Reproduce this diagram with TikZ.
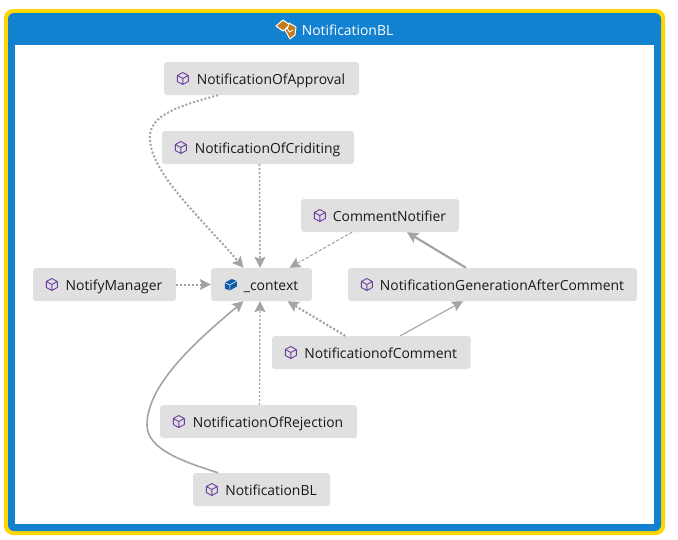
\documentclass[tikz,border=0pt]{standalone}
\usepackage{fontspec}
\setmainfont{Open Sans}
\usetikzlibrary{arrows.meta}
\definecolor{framegold}{RGB}{255,214,0}
\definecolor{frameblue}{RGB}{18,130,208}
\definecolor{boxgray}{RGB}{224,224,224}
\definecolor{linkgray}{RGB}{164,164,164}
\definecolor{cubepurple}{RGB}{107,63,160}
\definecolor{fieldblue}{RGB}{14,92,168}
\definecolor{bundleorange}{RGB}{196,122,28}
\tikzset{
    % Type box with room for the cube icon
    typebox/.style={
        rectangle, fill=boxgray, text=black!90,
        minimum height=33pt, inner xsep=0pt, inner ysep=0pt,
        text height=14pt, text depth=3pt,
        rounded corners=3pt, font=\fontsize{13.9pt}{16pt}\selectfont
    },
    % Link styles
    link/.style={draw=linkgray, -{Stealth[length=11pt,width=11pt,inset=2pt]}},
    dotlink/.style={link, dash pattern=on 2pt off 2pt},
    % Purple cube icon
    typecube/.pic={
        \draw[cubepurple, line width=0.9pt, line join=round]
            (0,-6) -- (5.5,-3) -- (5.5,3) -- (0,6) -- (-5.5,3) -- (-5.5,-3) -- cycle
            (-5.5,-3) -- (0,0) -- (5.5,-3) (0,0) -- (0,6);
    }
}
\newcommand{\boxtext}[1]{\hspace*{19pt}#1}
\begin{document}
\begin{tikzpicture}[x=1pt,y=-1pt]
\useasboundingbox (0,0) rectangle (678,539);

% Frame
\fill[framegold, rounded corners=9pt] (4,9) rectangle (665,535);
\fill[frameblue, rounded corners=6pt] (8,13) rectangle (661,531);
\fill[white] (15,45) rectangle (654,523.5);
\node[text=white, text height=14pt, text depth=3pt, inner sep=0pt, font=\fontsize{13.9pt}{16pt}\selectfont] (title) at (347.5,29.5) {NotificationBL};

% Bundle icon in the header
\begin{scope}[shift={(286,29)}]
\draw[white, line width=1pt, fill=bundleorange, line join=round]
    (-10,-3) -- (-3,-9) -- (4,-4) -- (-3,2) -- cycle;
\draw[white, line width=1pt, fill=bundleorange, line join=round]
    (-1,1) -- (2,-2) -- (3,-6) -- (10,-2) -- (9,6) -- (4,10) -- cycle;
\draw[white, line width=0.8pt] (1,-1) -- (3.5,3) -- (7,1);
\end{scope}

% Type boxes
\node[typebox, minimum width=195pt] (approval) at (261.5,78.5) {\boxtext{NotificationOfApproval}};
\node[typebox, minimum width=192pt] (criditing) at (258,147.5) {\boxtext{NotificationOfCriditing}};
\node[typebox, minimum width=158pt] (notifier) at (380,215.5) {\boxtext{CommentNotifier}};
\node[typebox, minimum width=143pt] (manager) at (104.5,284.5) {\boxtext{NotifyManager}};
\node[typebox, minimum width=101pt] (context) at (261.5,284.5) {\boxtext{\_context}};
\node[typebox, minimum width=289pt] (generation) at (492.5,284.5) {\boxtext{NotificationGenerationAfterComment}};
\node[typebox, minimum width=198.5pt] (comment) at (371.25,352.5) {\boxtext{NotificationofComment}};
\node[typebox, minimum width=197pt] (rejection) at (258.5,421.5) {\boxtext{NotificationOfRejection}};
\node[typebox, minimum width=137pt] (bl) at (261.5,489.5) {\boxtext{NotificationBL}};

% Cube icons
\foreach \boxname in {approval,criditing,notifier,manager,generation,comment,rejection,bl}
    \pic at ([xshift=19pt]\boxname.west) {typecube};

% Field icon
\begin{scope}[shift={([xshift=20pt]context.west)}]
\fill[fieldblue] (-6,-2) -- (1,-5.5) -- (6,-3.5) -- (6,2) -- (-1,6) -- (-6,4) -- cycle;
\draw[white, line width=0.5pt] (-6,-2) -- (-1,0.5) -- (6,-3.5) (-1,0.5) -- (-1,6);
\end{scope}

% Links to the field
\draw[dotlink, line width=2pt] ([xshift=-43.5pt]approval.south)
    .. controls (170,108) and (148,118) .. (150,140)
    .. controls (152,175) and (205,222) .. ([xshift=-18pt]context.north);
\draw[dotlink, line width=1.6pt] ([xshift=1.5pt]criditing.south) -- ([xshift=-1.5pt]context.north);
\draw[link, dash pattern=on 3pt off 2pt, line width=1.1pt] ([xshift=-28pt]notifier.south) -- ([xshift=28pt]context.north);
\draw[dotlink, line width=2pt] (manager.east) -- (context.west);
\draw[dotlink, line width=2.2pt] ([xshift=-26pt]comment.north) -- ([xshift=26pt]context.south);
\draw[dotlink, line width=1.3pt] ([xshift=1pt]rejection.north) -- ([xshift=-1.5pt]context.south);
\draw[link, line width=1.6pt] ([xshift=-43.5pt]bl.north)
    .. controls (185,462) and (147,450) .. (147,425)
    .. controls (147,385) and (195,342) .. ([xshift=-18pt]context.south);

% Links between the notifiers
\draw[link, line width=2.2pt] ([xshift=-26.5pt]generation.north) -- ([xshift=27pt]notifier.south);
\draw[link, line width=1.1pt] ([xshift=29pt]comment.north) -- ([xshift=-29.5pt]generation.south);

\end{tikzpicture}
\end{document}
